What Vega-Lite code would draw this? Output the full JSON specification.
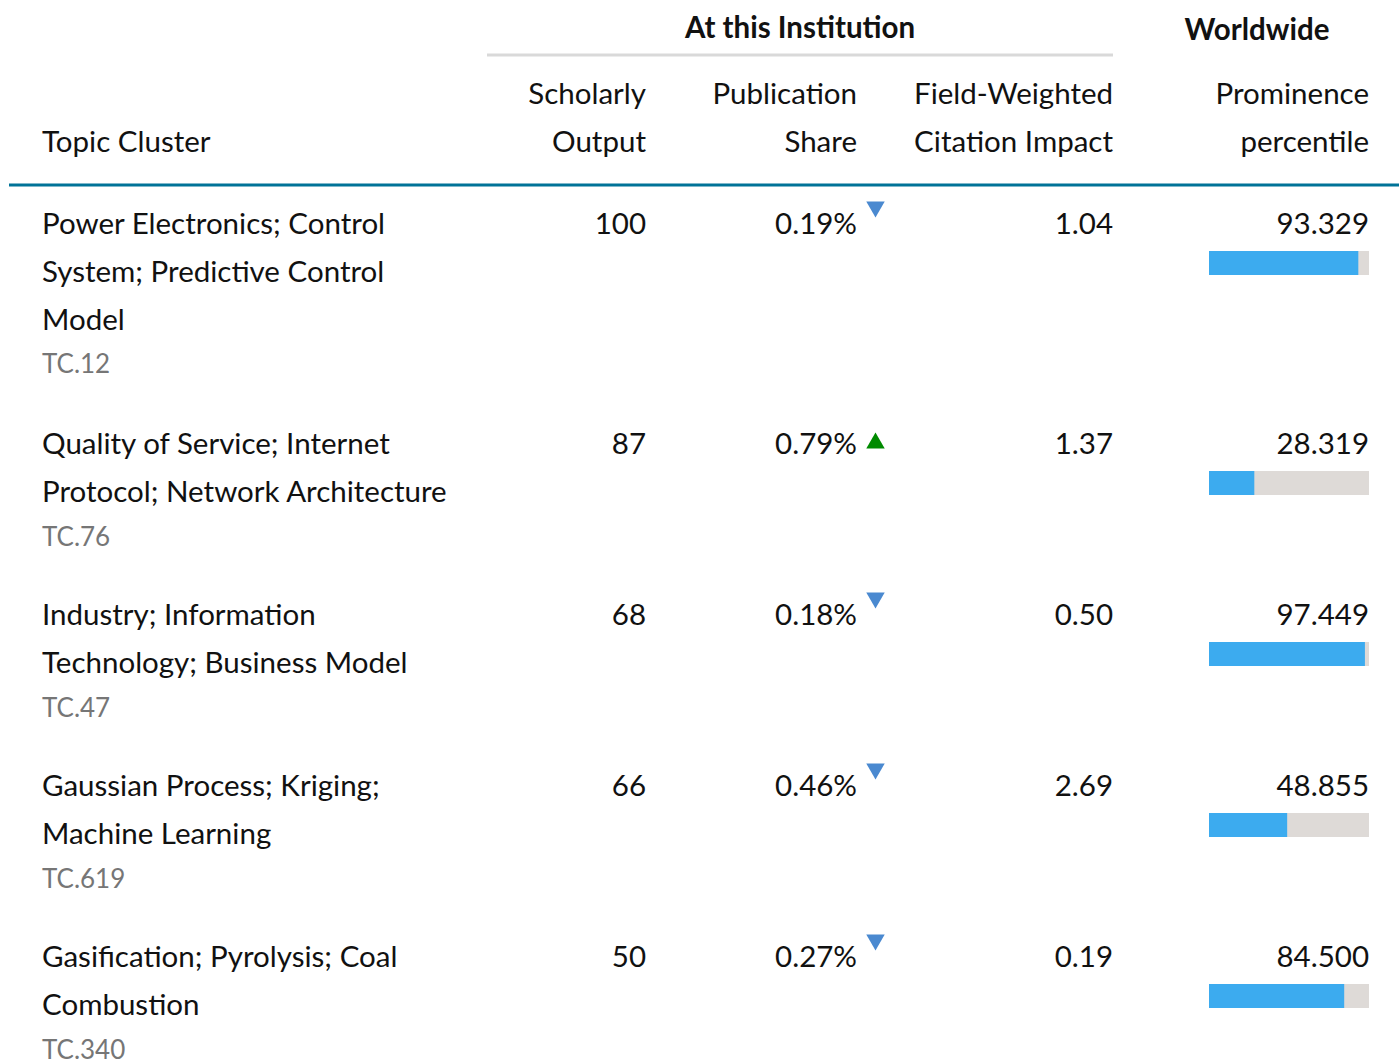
{
  "$schema": "https://vega.github.io/schema/vega-lite/v6.json",
  "width": 1399,
  "height": 1064,
  "autosize": {"type": "fit", "contains": "padding"},
  "padding": 0,
  "background": "white",
  "config": {
    "view": {"stroke": null},
    "text": {"font": "Lato", "fontSize": 29.5, "color": "#111111", "baseline": "alphabetic"}
  },
  "datasets": {
    "topics": [
      {"rank": 1, "topic": "Power Electronics; Control\nSystem; Predictive Control\nModel", "tc": "TC.12", "output": 100, "share": 0.0019, "trend": "down", "fwci": 1.04, "percentile": 93.329},
      {"rank": 2, "topic": "Quality of Service; Internet\nProtocol; Network Architecture", "tc": "TC.76", "output": 87, "share": 0.0079, "trend": "up", "fwci": 1.37, "percentile": 28.319},
      {"rank": 3, "topic": "Industry; Information\nTechnology; Business Model", "tc": "TC.47", "output": 68, "share": 0.0018, "trend": "down", "fwci": 0.50, "percentile": 97.449},
      {"rank": 4, "topic": "Gaussian Process; Kriging;\nMachine Learning", "tc": "TC.619", "output": 66, "share": 0.0046, "trend": "down", "fwci": 2.69, "percentile": 48.855},
      {"rank": 5, "topic": "Gasification; Pyrolysis; Coal\nCombustion", "tc": "TC.340", "output": 50, "share": 0.0027, "trend": "down", "fwci": 0.19, "percentile": 84.500}
    ]
  },
  "data": {"name": "topics"},
  "encoding": {
    "x": {"type": "quantitative", "scale": {"domain": [-4, -3, -2, -1, 0, 100], "range": [42, 646, 857, 1113, 1209, 1369], "nice": false, "zero": false}, "axis": null},
    "y": {"type": "quantitative", "scale": {"domain": [-1, 0, 1, 2, 5], "range": [38, 104, 234, 454, 967], "nice": false, "zero": false}, "axis": null}
  },
  "layer": [
    {
      "mark": {"type": "rect", "color": "#dedad7", "yOffset": 17, "y2Offset": 41},
      "encoding": {
        "x": {"datum": 0, "type": "quantitative"},
        "x2": {"datum": 100},
        "y": {"field": "rank", "type": "quantitative"},
        "y2": {"field": "rank"}
      }
    },
    {
      "mark": {"type": "rect", "color": "#3cabef", "yOffset": 17, "y2Offset": 41},
      "encoding": {
        "x": {"field": "percentile", "type": "quantitative"},
        "x2": {"datum": 0},
        "y": {"field": "rank", "type": "quantitative"},
        "y2": {"field": "rank"}
      }
    },
    {
      "mark": {"type": "text", "align": "left", "lineBreak": "\n", "lineHeight": 48},
      "encoding": {
        "x": {"datum": -4, "type": "quantitative"},
        "y": {"field": "rank", "type": "quantitative"},
        "text": {"field": "topic"}
      }
    },
    {
      "transform": [{"filter": "length(split(datum.topic, '\\n')) == 3"}],
      "mark": {"type": "text", "align": "left", "dy": 139, "fontSize": 26, "color": "#767676"},
      "encoding": {
        "x": {"datum": -4, "type": "quantitative"},
        "y": {"field": "rank", "type": "quantitative"},
        "text": {"field": "tc"}
      }
    },
    {
      "transform": [{"filter": "length(split(datum.topic, '\\n')) == 2"}],
      "mark": {"type": "text", "align": "left", "dy": 92, "fontSize": 26, "color": "#767676"},
      "encoding": {
        "x": {"datum": -4, "type": "quantitative"},
        "y": {"field": "rank", "type": "quantitative"},
        "text": {"field": "tc"}
      }
    },
    {
      "mark": {"type": "text", "align": "right"},
      "encoding": {
        "x": {"datum": -3, "type": "quantitative"},
        "y": {"field": "rank", "type": "quantitative"},
        "text": {"field": "output", "type": "quantitative", "format": "d"}
      }
    },
    {
      "mark": {"type": "text", "align": "right"},
      "encoding": {
        "x": {"datum": -2, "type": "quantitative"},
        "y": {"field": "rank", "type": "quantitative"},
        "text": {"field": "share", "type": "quantitative", "format": ".2%"}
      }
    },
    {
      "transform": [{"filter": "datum.trend == 'down'"}],
      "mark": {"type": "point", "shape": "triangle-down", "filled": true, "size": 340, "opacity": 1, "color": "#4a89d0", "xOffset": 18.5, "yOffset": -24.5},
      "encoding": {
        "x": {"datum": -2, "type": "quantitative"},
        "y": {"field": "rank", "type": "quantitative"}
      }
    },
    {
      "transform": [{"filter": "datum.trend == 'up'"}],
      "mark": {"type": "point", "shape": "triangle-up", "filled": true, "size": 340, "opacity": 1, "color": "#008a00", "xOffset": 18.5, "yOffset": -13.5},
      "encoding": {
        "x": {"datum": -2, "type": "quantitative"},
        "y": {"field": "rank", "type": "quantitative"}
      }
    },
    {
      "mark": {"type": "text", "align": "right"},
      "encoding": {
        "x": {"datum": -1, "type": "quantitative"},
        "y": {"field": "rank", "type": "quantitative"},
        "text": {"field": "fwci", "type": "quantitative", "format": ".2f"}
      }
    },
    {
      "mark": {"type": "text", "align": "right"},
      "encoding": {
        "x": {"datum": 100, "type": "quantitative"},
        "y": {"field": "rank", "type": "quantitative"},
        "text": {"field": "percentile", "type": "quantitative", "format": ".3f"}
      }
    },
    {
      "data": {"values": [{}]},
      "mark": {"type": "text", "align": "left", "lineHeight": 48},
      "encoding": {
        "x": {"datum": -4, "type": "quantitative"},
        "y": {"datum": 0, "type": "quantitative"},
        "text": {"value": ["", "Topic Cluster"]}
      }
    },
    {
      "data": {"values": [{}]},
      "mark": {"type": "text", "align": "right", "lineHeight": 48},
      "encoding": {
        "x": {"datum": -3, "type": "quantitative"},
        "y": {"datum": 0, "type": "quantitative"},
        "text": {"value": ["Scholarly", "Output"]}
      }
    },
    {
      "data": {"values": [{}]},
      "mark": {"type": "text", "align": "right", "lineHeight": 48},
      "encoding": {
        "x": {"datum": -2, "type": "quantitative"},
        "y": {"datum": 0, "type": "quantitative"},
        "text": {"value": ["Publication", "Share"]}
      }
    },
    {
      "data": {"values": [{}]},
      "mark": {"type": "text", "align": "right", "lineHeight": 48},
      "encoding": {
        "x": {"datum": -1, "type": "quantitative"},
        "y": {"datum": 0, "type": "quantitative"},
        "text": {"value": ["Field-Weighted", "Citation Impact"]}
      }
    },
    {
      "data": {"values": [{}]},
      "mark": {"type": "text", "align": "right", "lineHeight": 48},
      "encoding": {
        "x": {"datum": 100, "type": "quantitative"},
        "y": {"datum": 0, "type": "quantitative"},
        "text": {"value": ["Prominence", "percentile"]}
      }
    },
    {
      "data": {"values": [{}]},
      "mark": {"type": "text", "align": "center", "fontWeight": "bold", "xOffset": -57},
      "encoding": {
        "x": {"datum": -2, "type": "quantitative"},
        "y": {"datum": -1, "type": "quantitative"},
        "text": {"value": "At this Institution"}
      }
    },
    {
      "data": {"values": [{}]},
      "mark": {"type": "text", "align": "center", "fontWeight": "bold", "xOffset": -112, "dy": 2},
      "encoding": {
        "x": {"datum": 100, "type": "quantitative"},
        "y": {"datum": -1, "type": "quantitative"},
        "text": {"value": "Worldwide"}
      }
    },
    {
      "data": {"values": [{}]},
      "mark": {"type": "rule", "color": "#d9d9d9", "strokeWidth": 3, "xOffset": -159, "yOffset": 17},
      "encoding": {
        "x": {"datum": -3, "type": "quantitative"},
        "x2": {"datum": -1},
        "y": {"datum": -1, "type": "quantitative"}
      }
    },
    {
      "data": {"values": [{}]},
      "mark": {"type": "rule", "color": "#007398", "strokeWidth": 3, "xOffset": -33, "x2Offset": 30, "yOffset": 81},
      "encoding": {
        "x": {"datum": -4, "type": "quantitative"},
        "x2": {"datum": 100},
        "y": {"datum": 0, "type": "quantitative"}
      }
    }
  ]
}
